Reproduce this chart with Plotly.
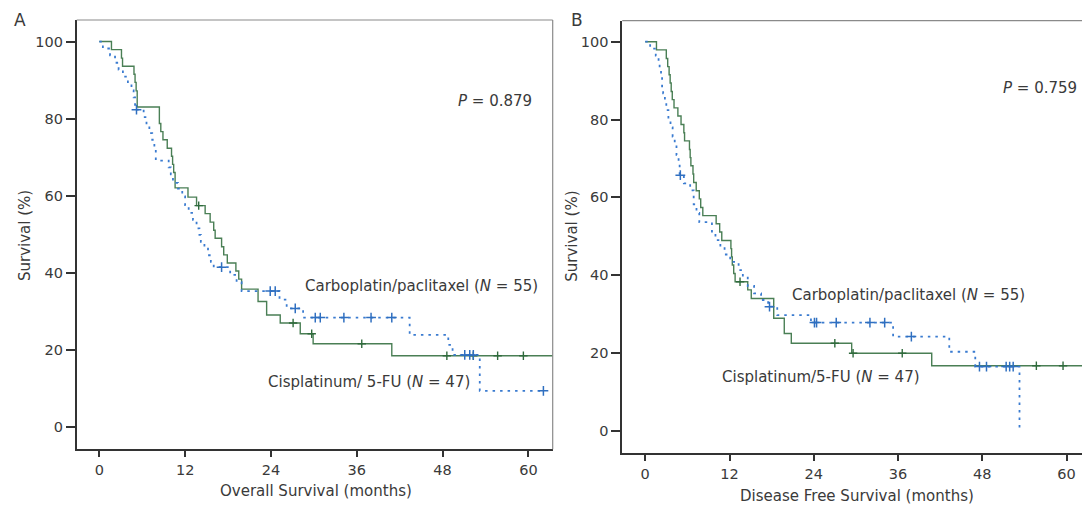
import plotly.graph_objects as go

# ---------------- Panel A : Overall survival ----------------
# Carboplatin/paclitaxel (N=55) - blue dotted
os_carbo_t = [0, 0.5, 1.5, 2.2, 2.7, 3.3, 4.0, 4.5, 4.8, 5.0, 6.2, 6.6, 7.0, 7.4, 7.7, 7.9,
              9.7, 10.0, 10.3, 11.0, 11.6, 12.0, 12.5, 13.1, 13.6, 14.0, 14.2, 14.7, 15.2,
              15.6, 16.0, 18.3, 19.2, 19.9, 25.2, 26.2, 28.5, 43.4, 48.8, 49.4, 53.2, 62.1]
os_carbo_s = [100, 98.2, 96.4, 94.5, 92.7, 90.9, 89.1, 87.3, 85.5, 82.3, 80.4, 78.2, 76.2, 74.5,
              72.7, 69.1, 67.3, 65.5, 63.3, 61.8, 59.8, 57.5, 55.5, 53.7, 51.5, 49.8, 48.0, 46.2,
              44.5, 42.8, 41.4, 39.4, 37.5, 35.2, 33.0, 30.7, 28.3, 23.8, 21.2, 18.6, 9.3, 9.3]
os_carbo_cens = [5.2, 17.1, 23.9, 24.6, 27.4, 30.2, 30.9, 34.2, 38.0, 40.9, 51.1, 51.8, 52.3, 62.1]

# Cisplatinum/5-FU (N=47) - green solid
os_cis_t = [0, 1.7, 3.1, 3.25, 4.85, 5.0, 5.15, 5.3, 8.4, 8.6, 8.9, 9.5, 10.1, 10.25, 10.4, 10.6,
            12.4, 13.6, 14.8, 15.5, 16.0, 16.2, 17.1, 17.4, 17.9, 19.1, 19.5, 19.9, 22.2, 23.4,
            25.3, 28.1, 29.9, 40.9, 66]
os_cis_s = [100, 97.9, 95.7, 93.6, 91.5, 89.4, 87.2, 83.0, 78.7, 76.6, 74.5, 72.3, 70.2, 68.1,
            66.0, 62.0, 59.6, 57.4, 55.3, 53.1, 51.0, 48.9, 46.7, 44.6, 42.5, 40.4, 38.3, 35.7,
            32.5, 29.0, 26.9, 24.1, 21.5, 18.4, 18.4]
os_cis_cens = [13.9, 27.1, 29.7, 36.7, 48.6, 52.3, 55.7, 59.3]

# ---------------- Panel B : Disease free survival ----------------
dfs_carbo_t = [0, 0.7, 1.5, 1.9, 2.05, 2.25, 2.4, 2.55, 2.8, 3.0, 3.3, 3.6, 3.9, 4.2, 4.45, 4.75,
               4.9, 5.5, 6.4, 6.9, 7.3, 7.7, 9.5, 10.0, 10.7, 11.3, 12.1, 13.3, 13.9, 14.6,
               15.5, 16.5, 17.5, 18.8, 23.6, 35.3, 43.3, 47.0, 53.3]
dfs_carbo_s = [100, 98.2, 96.4, 94.5, 92.7, 90.9, 88.5, 86.7, 84.6, 82.4, 80.0, 78.0, 75.6, 73.4,
               70.9, 68.5, 65.7, 63.6, 61.8, 58.2, 56.0, 53.6, 51.2, 49.0, 47.3, 45.3, 43.4, 41.3,
               39.6, 37.2, 35.3, 33.6, 31.9, 29.7, 27.8, 24.2, 20.3, 16.5, 0]
dfs_carbo_cens = [5.0, 17.7, 24.1, 24.4, 27.2, 32.0, 34.1, 37.9, 47.6, 48.6, 51.4, 51.9, 52.4]

dfs_cis_t = [0, 1.6, 3.0, 3.2, 3.4, 3.55, 3.7, 3.85, 4.1, 4.65, 5.1, 5.5, 5.6, 6.3, 6.4, 6.5, 6.8,
             6.9, 7.26, 7.7, 7.9, 8.2, 10.1, 10.6, 10.9, 12.2, 12.3, 12.4, 12.6, 12.8, 14.6, 15.1,
             18.3, 19.8, 20.8, 29.4, 40.8, 66]
dfs_cis_s = [100, 97.9, 95.7, 93.6, 91.5, 89.4, 87.2, 85.1, 83.0, 80.9, 78.7, 76.6, 74.5, 72.3,
             70.2, 68.1, 66.0, 63.8, 61.7, 59.6, 57.4, 55.3, 53.2, 51.1, 48.9, 46.8, 44.7, 42.6,
             40.4, 38.3, 36.2, 34.0, 28.9, 25.0, 22.5, 19.9, 16.7, 16.7]
dfs_cis_cens = [13.5, 27.0, 29.6, 36.6, 55.7, 59.5]

x_ticks = [0, 12, 24, 36, 48, 60]
y_ticks = [0, 20, 40, 60, 80, 100]

GREEN = "#4a7f55"
GREEN_MK = "#2f6a3c"
BLUE = "#3a7bd0"
BLUE_MK = "#2f6fc0"
TXT = "#3a3a3a"
FONT = "DejaVu Sans"


def level_at(ts, ss, t):
    v = ss[0]
    for ti, si in zip(ts, ss):
        if ti <= t:
            v = si
        else:
            break
    return v


fig = go.Figure()


def add_panel(ts_b, ss_b, cens_b, ts_g, ss_g, cens_g, xa, ya):
    fig.add_trace(go.Scatter(x=ts_g, y=ss_g, mode="lines", line_shape="hv",
                             line=dict(color=GREEN, width=1.4), xaxis=xa, yaxis=ya,
                             showlegend=False, hoverinfo="skip"))
    fig.add_trace(go.Scatter(x=cens_g, y=[level_at(ts_g, ss_g, c) for c in cens_g],
                             mode="markers",
                             marker=dict(symbol="cross-thin-open", size=6, color=GREEN_MK,
                                         line=dict(color=GREEN_MK, width=1.4)),
                             xaxis=xa, yaxis=ya, showlegend=False, hoverinfo="skip"))
    fig.add_trace(go.Scatter(x=ts_b, y=ss_b, mode="lines", line_shape="hv",
                             line=dict(color=BLUE, width=1.8, dash="2.5px,5px"),
                             xaxis=xa, yaxis=ya, showlegend=False, hoverinfo="skip"))
    fig.add_trace(go.Scatter(x=cens_b, y=[level_at(ts_b, ss_b, c) for c in cens_b],
                             mode="markers",
                             marker=dict(symbol="cross-thin-open", size=7, color=BLUE_MK,
                                         line=dict(color=BLUE_MK, width=1.5)),
                             xaxis=xa, yaxis=ya, showlegend=False, hoverinfo="skip"))


add_panel(os_carbo_t, os_carbo_s, os_carbo_cens, os_cis_t, os_cis_s, os_cis_cens, "x", "y")
add_panel(dfs_carbo_t, dfs_carbo_s, dfs_carbo_cens, dfs_cis_t, dfs_cis_s, dfs_cis_cens, "x2", "y2")

W, H = 1082, 505

axis_common = dict(showline=True, linecolor="#333333", linewidth=1.6, ticks="outside",
                   tickcolor="#333333", tickwidth=1.5, showgrid=False, zeroline=False,
                   tickfont=dict(family=FONT, size=14.5, color=TXT), mirror=False)

fig.update_layout(
    width=W, height=H, margin=dict(l=0, r=0, t=0, b=0),
    paper_bgcolor="white", plot_bgcolor="white",
    xaxis=dict(domain=[76.7 / W, 552.7 / W], range=[-3.16, 63.4], tickvals=x_ticks,
               ticklen=6, anchor="y", **axis_common),
    yaxis=dict(domain=[1 - 449.3 / H, 1 - 20 / H], range=[-5.9, 105.6], tickvals=y_ticks,
               ticklen=9, anchor="x", **axis_common),
    xaxis2=dict(domain=[622.2 / W, 1.0], range=[-3.28, 62.2], tickvals=x_ticks,
                ticklen=6, anchor="y2", **axis_common),
    yaxis2=dict(domain=[1 - 453.3 / H, 1 - 20.7 / H], range=[-5.8, 105.4], tickvals=y_ticks,
                ticklen=9, anchor="x2", **axis_common),
)

frame = dict(color="#8a8a8a", width=1.2)
fig.add_shape(type="line", xref="x domain", yref="y domain", x0=0, x1=1, y0=1, y1=1, line=frame)
fig.add_shape(type="line", xref="x domain", yref="y domain", x0=1, x1=1, y0=0, y1=1, line=frame)
fig.add_shape(type="line", xref="x2 domain", yref="y2 domain", x0=0, x1=1, y0=1, y1=1, line=frame)


def ann(text, x, y, xref, yref, size=15, angle=0):
    fig.add_annotation(text=text, x=x, y=y, xref=xref, yref=yref, showarrow=False,
                       xanchor="center", yanchor="middle", textangle=angle,
                       font=dict(family=FONT, size=size, color=TXT))


# in-plot texts (data coordinates)
ann("<i>P</i> = 0.879", 55.4, 84.5, "x", "y")
ann("Carboplatin/paclitaxel (<i>N</i> = 55)", 45.0, 36.4, "x", "y")
ann("Cisplatinum/ 5-FU (<i>N</i> = 47)", 37.7, 11.7, "x", "y")
ann("<i>P</i> = 0.759", 56.2, 88.0, "x2", "y2")
ann("Carboplatin/paclitaxel (<i>N</i> = 55)", 37.5, 34.9, "x2", "y2")
ann("Cisplatinum/5-FU (<i>N</i> = 47)", 25.1, 13.9, "x2", "y2")

# axis titles and panel letters (paper coordinates)
ann("Overall Survival (months)", 315.7 / W, 1 - 490.7 / H, "paper", "paper")
ann("Disease Free Survival (months)", 856.7 / W, 1 - 496 / H, "paper", "paper")
ann("Survival (%)", 25 / W, 1 - 236 / H, "paper", "paper", angle=-90)
ann("Survival (%)", 571.7 / W, 1 - 236 / H, "paper", "paper", angle=-90)
ann("A", 20 / W, 1 - 20 / H, "paper", "paper", size=17)
ann("B", 576.7 / W, 1 - 20 / H, "paper", "paper", size=17)

fig.write_html("out.html", config={"displayModeBar": False},
               post_script="document.body.style.margin='0';document.body.style.overflow='hidden';")
